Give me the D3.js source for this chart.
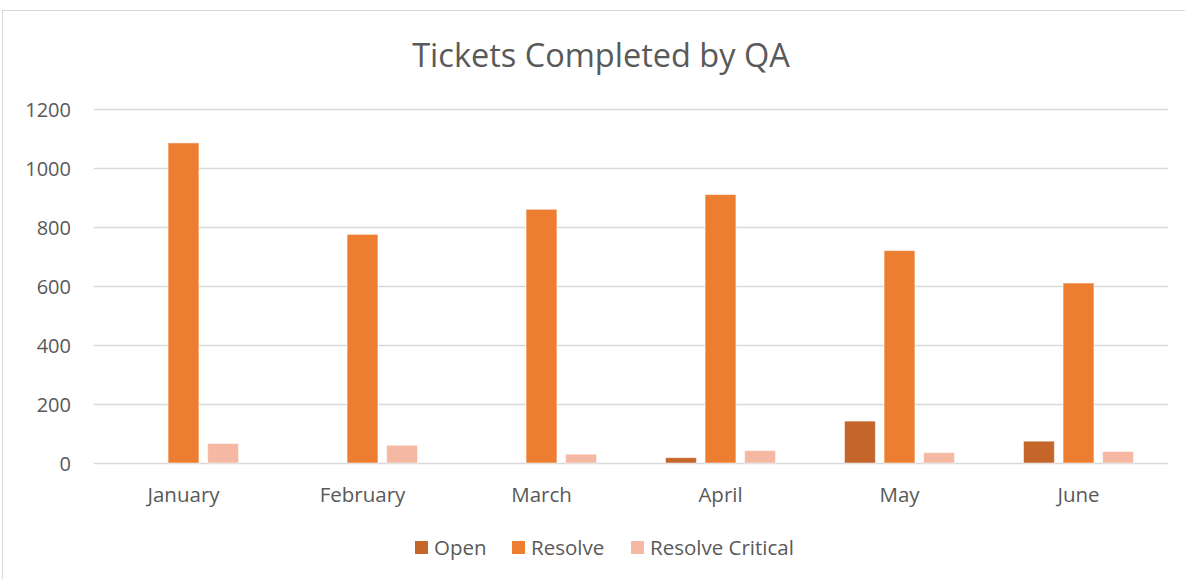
<!DOCTYPE html>
<html>
<head>
<meta charset="utf-8">
<script src="https://cdn.jsdelivr.net/npm/d3@7"></script>
<style>
  body { margin: 0; background: #fff; }
  svg text { font-family: "Open Sans", Lato, sans-serif; fill: #595959; }
</style>
</head>
<body>
<div id="chart"></div>
<script>
const months = ["January", "February", "March", "April", "May", "June"];
const seriesNames = ["Open", "Resolve", "Resolve Critical"];
const openVals = [0, 0, 0, 18, 142, 74];
const resolveVals = [1085, 775, 860, 910, 720, 610];
const criticalVals = [66, 60, 30, 42, 35, 39];
const yTicks = [0, 200, 400, 600, 800, 1000, 1200];
const colors = ["#C4652A", "#ED7D31", "#F4B8A3"];

const WIDTH = 1185, HEIGHT = 579;
const M = { top: 109, right: 17, bottom: 116, left: 94 };
const innerW = WIDTH - M.left - M.right;
const innerH = HEIGHT - M.top - M.bottom;

const svg = d3.select("#chart").append("svg")
  .attr("width", WIDTH).attr("height", HEIGHT);

// chart frame
svg.append("rect").attr("x", 2.5).attr("y", 10.5).attr("width", 1200).attr("height", 600)
  .attr("fill", "none").attr("stroke", "#d9d9d9").attr("stroke-width", 1);

svg.append("text").attr("x", 601).attr("y", 67).attr("text-anchor", "middle")
  .style("font-size", "32.5px").text("Tickets Completed by QA");

const g = svg.append("g").attr("transform", `translate(${M.left},${M.top})`);

const data = months.map((m, i) => ({ month: m, vals: [openVals[i], resolveVals[i], criticalVals[i]] }));

const x = d3.scaleBand().domain(months).range([0, innerW]).paddingInner(0).paddingOuter(0);
const xs = d3.scaleBand().domain(seriesNames).range([0, 110]).paddingInner(0.22);
const y = d3.scaleLinear().domain([0, 1200]).range([innerH, 0]);

// gridlines
g.append("g").selectAll("line").data(yTicks).join("line")
  .attr("x1", 0).attr("x2", innerW)
  .attr("y1", d => Math.round(y(d)) + 0.5).attr("y2", d => Math.round(y(d)) + 0.5)
  .attr("stroke", "#d9d9d9").attr("stroke-width", 1.3);

// y labels
const yAxis = g.append("g").call(d3.axisLeft(y).tickValues(yTicks).tickFormat(d3.format("d"))
  .tickSize(0).tickPadding(23));
yAxis.select(".domain").remove();
yAxis.selectAll("text").style("font-size", "20px").attr("fill", "#595959").attr("dy", "0.35em");

// x labels
const xAxis = g.append("g").attr("transform", `translate(0,${innerH})`)
  .call(d3.axisBottom(x).tickSize(0).tickPadding(24));
xAxis.select(".domain").remove();
xAxis.selectAll("text").style("font-size", "20.5px").attr("fill", "#595959");

// bars
const groups = g.selectAll(".grp").data(data).join("g")
  .attr("transform", d => `translate(${x(d.month) + x.bandwidth() / 2 - 55},0)`);
groups.selectAll("rect").data(d => d.vals.map((v, i) => ({ v, s: seriesNames[i], i })))
  .join("rect")
  .filter(d => d.v > 0)
  .attr("x", d => xs(d.s))
  .attr("y", d => y(d.v))
  .attr("width", xs.bandwidth())
  .attr("height", d => innerH - y(d.v))
  .attr("fill", d => colors[d.i])
  .attr("stroke", "#fff").attr("stroke-opacity", 0.5).attr("stroke-width", 1);

// legend
const legendX = [415, 512, 631];
const legend = svg.append("g");
seriesNames.forEach((s, i) => {
  legend.append("rect").attr("x", legendX[i]).attr("y", 541).attr("width", 13).attr("height", 13)
    .attr("fill", colors[i]);
  legend.append("text").attr("x", legendX[i] + 19).attr("y", 555)
    .style("font-size", "20.5px").text(s);
});
</script>
</body>
</html>
